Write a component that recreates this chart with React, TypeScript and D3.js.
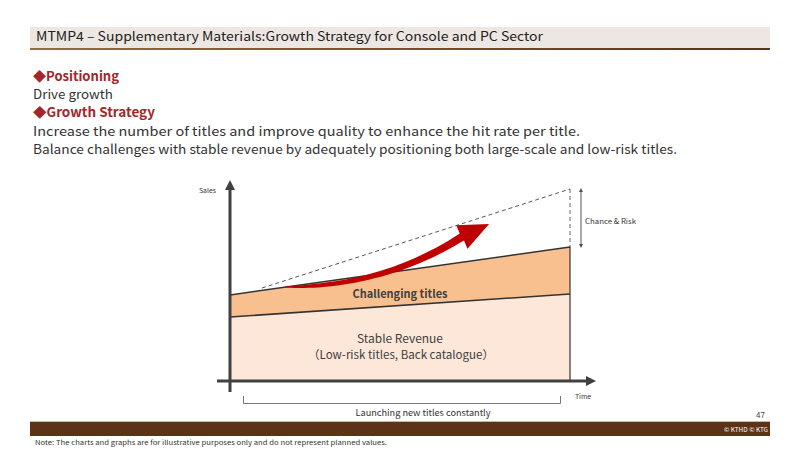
import React from "react";
import * as d3 from "d3";

// ---- data (illustrative values in data space) ----
const timeDomain = [0, 1];
const salesDomain = [0, 100];
const periods = [0, 1];
const stableRevenue = [32, 43.5];
const challengingTop = [43, 67];
const potentialTime = [0.094, 1];
const potentialSales = [46.5, 96];
// growth arrow: quadratic centerline (start, control, head base) + tip (data space)
const arrowTime = [0.162, 0.449, 0.682, 0.762];
const arrowSales = [47, 47, 72, 78.5];

const headerTitle = "MTMP4 – Supplementary Materials:Growth Strategy for Console and PC Sector";
const bodyLines = [
  { text: "◆Positioning", heading: true, len: 86 },
  { text: "Drive growth", heading: false, len: 80 },
  { text: "◆Growth Strategy", heading: true, len: 122 },
  { text: "Increase the number of titles and improve quality to enhance the hit rate per title.", heading: false, len: 547 },
  { text: "Balance challenges with stable revenue by adequately positioning both large-scale and low-risk titles.", heading: false, len: 644 },
];

const FONT = "'Noto Sans CJK JP', 'Noto Sans', sans-serif";

export default function App() {
  const W = 800, H = 449;
  const x = d3.scaleLinear().domain(timeDomain).range([230, 570]);
  const y = d3.scaleLinear().domain(salesDomain).range([381, 181]);

  const pts = (vals: number[]) => periods.map((p, i) => [p, vals[i]] as [number, number]);
  const stableArea = d3.area<[number, number]>().x(d => x(d[0])).y0(y(0)).y1(d => y(d[1]))(pts(stableRevenue))!;
  const challArea = d3.area<[number, number]>().x(d => x(d[0])).y0((d, i) => y(stableRevenue[i])).y1(d => y(d[1]))(pts(challengingTop))!;
  const line = d3.line<[number, number]>().x(d => x(d[0])).y(d => y(d[1]));

  // arrow geometry
  const P = arrowTime.map((t, i) => [x(t), y(arrowSales[i])]);
  const [p0, p1, p2, tip] = P;
  const N = 40;
  const upper: [number, number][] = [];
  const lower: [number, number][] = [];
  for (let k = 0; k <= N; k++) {
    const t = k / N;
    const bx = (1 - t) * (1 - t) * p0[0] + 2 * (1 - t) * t * p1[0] + t * t * p2[0];
    const by = (1 - t) * (1 - t) * p0[1] + 2 * (1 - t) * t * p1[1] + t * t * p2[1];
    const dx = 2 * (1 - t) * (p1[0] - p0[0]) + 2 * t * (p2[0] - p1[0]);
    const dy = 2 * (1 - t) * (p1[1] - p0[1]) + 2 * t * (p2[1] - p1[1]);
    const l = Math.hypot(dx, dy);
    const nx = -dy / l, ny = dx / l;
    const w = 0.6 + Math.min(1, t * 6) * 1.0 + 2.4 * t;
    upper.push([bx - nx * w, by - ny * w]);
    lower.push([bx + nx * w, by + ny * w]);
  }
  const hdx = tip[0] - p2[0], hdy = tip[1] - p2[1];
  const hl = Math.hypot(hdx, hdy);
  const hnx = -hdy / hl, hny = hdx / hl;
  const hw = 13;
  const headA: [number, number] = [p2[0] - hnx * hw, p2[1] - hny * hw];
  const headB: [number, number] = [p2[0] + hnx * hw, p2[1] + hny * hw];
  const arrowPoly = [...upper, headA, [tip[0], tip[1]] as [number, number], headB, ...lower.slice().reverse()];
  const arrowPath = "M" + arrowPoly.map(p => p.map(v => v.toFixed(2)).join(",")).join("L") + "Z";

  const axisColor = "#404040";
  const bodyY = [81, 99, 117, 136, 154];

  return (
    <svg width={W} height={H} style={{ position: "absolute", left: 0, top: 0, background: "#fff" }} fontFamily={FONT}>
      <defs>
        <linearGradient id="hdrLine" x1="0" x2="1">
          <stop offset="0" stopColor="#9a6a3a" />
          <stop offset="1" stopColor="#5c3317" />
        </linearGradient>
        <marker id="ah" viewBox="0 0 10 10" refX="5" refY="5" markerWidth="4" markerHeight="4" orient="auto-start-reverse">
          <path d="M0,0L10,5L0,10Z" fill="#505050" />
        </marker>
      </defs>
      {/* header */}
      <rect x={30} y={27} width={740} height={21} fill="#ede7e3" />
      <rect x={30} y={48} width={740} height={2} fill="url(#hdrLine)" />
      <text x={36} y={41} fontSize={12.5} fill="#222" textLength={507} lengthAdjust="spacingAndGlyphs">{headerTitle}</text>

      {/* body */}
      {bodyLines.map((b, i) => (
        <text key={i} x={33} y={bodyY[i]} fontSize={13} fill={b.heading ? "#a3262a" : "#333"} fontWeight={b.heading ? 600 : 400}
          textLength={b.len} lengthAdjust="spacingAndGlyphs">{b.text}</text>
      ))}

      {/* chart areas */}
      <path d={stableArea} fill="#fce7d9" />
      <path d={challArea} fill="#f8c08f" />
      {/* potential dashed */}
      <path d={line(potentialTime.map((t, i) => [t, potentialSales[i]] as [number, number]))!} fill="none" stroke="#444" strokeWidth={0.9} strokeDasharray="4,3" />
      <line x1={x(1)} x2={x(1)} y1={y(potentialSales[1])} y2={y(challengingTop[1])} stroke="#555" strokeWidth={0.9} strokeDasharray="4,3" />

      <path d={line(pts(challengingTop))!} fill="none" stroke="#333" strokeWidth={1.5} />
      <path d={line(pts(stableRevenue))!} fill="none" stroke="#333" strokeWidth={1.5} />
      <line x1={x(1)} x2={x(1)} y1={y(0)} y2={y(challengingTop[1])} stroke="#333" strokeWidth={1.2} />

      {/* red growth arrow */}
      <path d={arrowPath} fill="#c00000" />

      {/* labels inside */}
      <text x={400} y={298} textAnchor="middle" fontSize={11} fontWeight={700} fill="#404040" textLength={95} lengthAdjust="spacingAndGlyphs">Challenging titles</text>
      <text x={400} y={343} textAnchor="middle" fontSize={11.5} fill="#404040" textLength={86} lengthAdjust="spacingAndGlyphs">Stable Revenue</text>
      <text x={401} y={359} textAnchor="middle" fontSize={11.5} fill="#404040" textLength={186} lengthAdjust="spacingAndGlyphs">（Low-risk titles, Back catalogue）</text>

      {/* axes */}
      <line x1={230} x2={230} y1={392} y2={188} stroke={axisColor} strokeWidth={3} />
      <path d="M230,180L225,190L235,190Z" fill={axisColor} />
      <line x1={217} x2={588} y1={381} y2={381} stroke={axisColor} strokeWidth={3} />
      <path d="M596,381L586,376L586,386Z" fill={axisColor} />
      <text x={199} y={193} fontSize={6.5} fill="#333" textLength={17} lengthAdjust="spacingAndGlyphs">Sales</text>
      <text x={575} y={399} fontSize={6.5} fill="#333" textLength={16} lengthAdjust="spacingAndGlyphs">Time</text>

      {/* chance & risk */}
      <line x1={581} x2={581} y1={190} y2={246} stroke="#555" strokeWidth={1} markerStart="url(#ah)" markerEnd="url(#ah)" />
      <text x={585} y={224} fontSize={7} fill="#333" textLength={51} lengthAdjust="spacingAndGlyphs">Chance &amp; Risk</text>

      {/* bracket */}
      <path d="M243.5,396V403.5H560.5V396" fill="none" stroke="#777" strokeWidth={1} />
      <text x={423} y={416} textAnchor="middle" fontSize={9} fill="#333" textLength={135} lengthAdjust="spacingAndGlyphs">Launching new titles constantly</text>
      <text x={765} y={418} textAnchor="end" fontSize={8} fill="#444">47</text>

      {/* footer */}
      <rect x={30} y={421} width={740} height={1} fill="#c8b8a8" />
      <rect x={30} y={422} width={740} height={14} fill="#5c3317" />
      <text x={768} y={432} textAnchor="end" fontSize={6.5} fill="#fff" textLength={44} lengthAdjust="spacingAndGlyphs">© KTHD © KTG</text>
      <text x={35} y={445} fontSize={6.5} fill="#333" textLength={352} lengthAdjust="spacingAndGlyphs">Note: The charts and graphs are for illustrative purposes only and do not represent planned values.</text>
    </svg>
  );
}
